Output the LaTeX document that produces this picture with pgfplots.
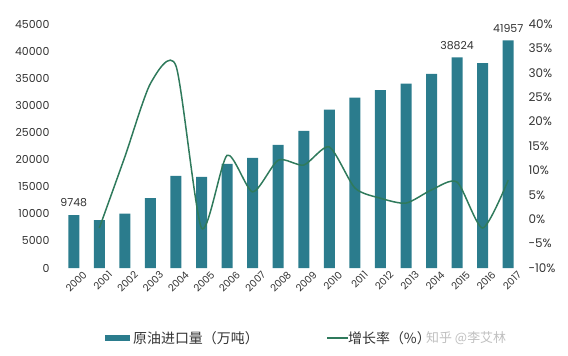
\documentclass[border=0pt]{standalone}
\usepackage{pgfplots}
\pgfplotsset{compat=1.18}
\usepackage{fontspec}
\setmainfont{Poppins}
\newfontfamily\cjk{Noto Sans CJK SC}
\definecolor{barc}{HTML}{2B7C8D}
\definecolor{linec}{HTML}{2F7A5C}
\definecolor{tickc}{HTML}{333333}
\begin{document}
\begin{tikzpicture}
\begin{axis}[
  scale only axis, width=460bp, height=244bp,
  xmin=-0.5, xmax=17.5, ymin=0, ymax=45000,
  axis line style={draw=none}, major tick length=0pt,
  xtick={0,...,17},
  xticklabels={2000,2001,2002,2003,2004,2005,2006,2007,2008,2009,2010,2011,2012,2013,2014,2015,2016,2017},
  xticklabel style={rotate=45, anchor=north east, font=\fontsize{10}{11}\selectfont, text=tickc, inner sep=0.5pt, xshift=5bp, yshift=-7bp},
  ytick={0,5000,...,45000},
  yticklabel style={font=\fontsize{11}{12}\selectfont, text=tickc, xshift=-8bp},
  /pgf/number format/assume math mode=true,
  /pgf/number format/.cd, 1000 sep={}, /pgfplots/.cd,
  scaled y ticks=false,
  clip=false,
]
\coordinate (sw) at (rel axis cs:0,0);
\coordinate (ne) at (rel axis cs:1,1);
\addplot[ybar, bar width=11bp, fill=barc, draw=none] coordinates {
 (0,9748) (1,8850) (2,10050) (3,12900) (4,17000) (5,16800) (6,19200) (7,20300)
 (8,22700) (9,25300) (10,29200) (11,31400) (12,32800) (13,34000) (14,35800)
 (15,38824) (16,37800) (17,41957)};
\node[font=\fontsize{11}{12}\selectfont, text=tickc, anchor=south] at (axis cs:0,9748) [yshift=5bp] {9748};
\node[font=\fontsize{11}{12}\selectfont, text=tickc, anchor=south] at (axis cs:15,38824) [yshift=4bp] {38824};
\node[font=\fontsize{11}{12}\selectfont, text=tickc, anchor=south] at (axis cs:17,41957) [yshift=4bp] {41957};
\end{axis}
\begin{axis}[
  scale only axis, width=460bp, height=244bp,
  xmin=-0.5, xmax=17.5, ymin=-10, ymax=40,
  axis line style={draw=none}, major tick length=0pt,
  axis x line=none, axis y line*=right,
  ytick={-10,-5,...,40},
  yticklabel={\pgfmathprintnumber{\tick}\%},
  yticklabel style={font=\fontsize{12}{13}\selectfont, text=tickc, xshift=4bp},
  /pgf/number format/assume math mode=true,
]
\addplot[linec, line width=1.5pt, smooth, tension=0.42] coordinates {
 (1,-1.8) (2,12.8) (3,27.8) (4,31.4) (5,-1.8) (6,13.1) (7,5.6) (8,12.1) (9,11.1)
 (10,14.8) (11,6.4) (12,4.3) (13,3.3) (14,6.0) (15,7.6) (16,-1.8) (17,8.0)};
\end{axis}
% legend
\fill[barc] ([xshift=44bp,yshift=-67bp]sw) rectangle ++(25bp,-6bp);
\node[anchor=west, font=\cjk\fontsize{14}{15}\selectfont, text=tickc, inner sep=0pt] at ([xshift=72bp,yshift=-70bp]sw) {原油进口量（万吨）};
\draw[linec, line width=1.5pt] ([xshift=266bp,yshift=-70bp]sw) -- ++(21bp,0);
\node[anchor=west, font=\cjk\fontsize{14}{15}\selectfont, text=tickc, inner sep=0pt] at ([xshift=287bp,yshift=-70bp]sw) {增长率（\%）};
\node[anchor=west, font=\cjk\fontsize{13}{14}\selectfont, text=black!25, inner sep=0pt] at ([xshift=365bp,yshift=-70bp]sw) {知乎 @李艾林};
\pgfresetboundingbox
\path ([xshift=-61bp,yshift=-88bp]sw) rectangle ([xshift=47bp,yshift=24bp]ne);
\end{tikzpicture}
\end{document}
